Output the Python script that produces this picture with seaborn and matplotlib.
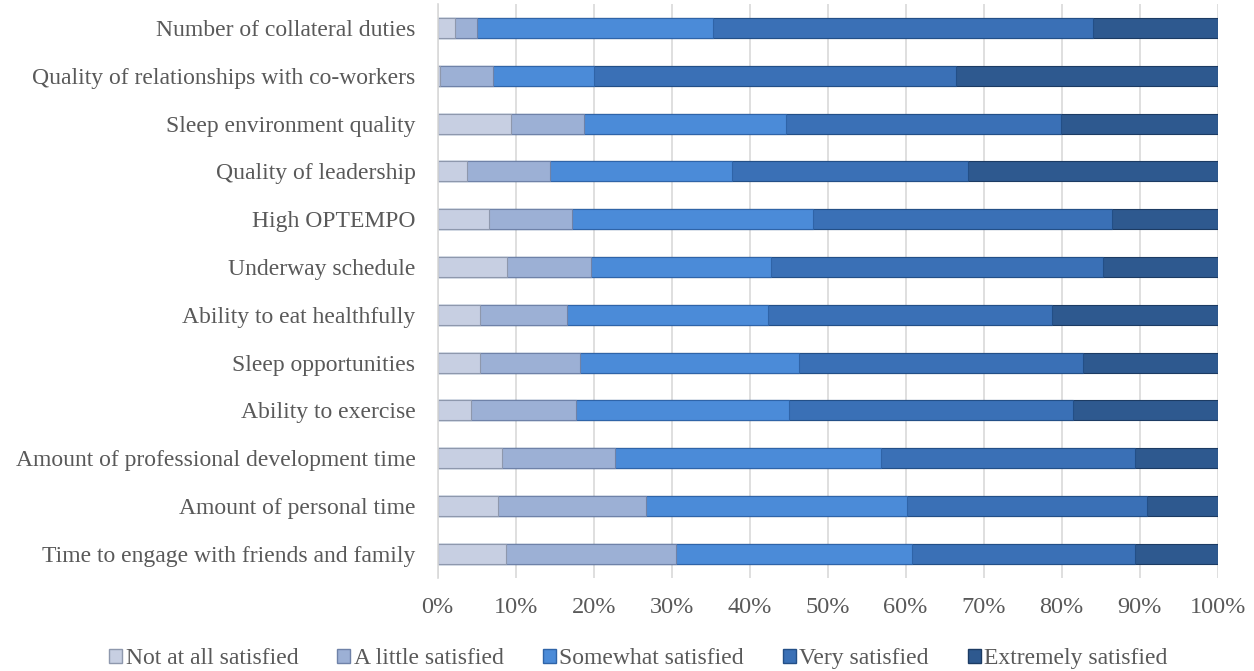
import numpy as np
import pandas as pd
import seaborn as sns
import matplotlib.pyplot as plt
from matplotlib.patches import Patch

# Survey items (top to bottom as shown)
items = [
    "Number of collateral duties",
    "Quality of relationships with co-workers",
    "Sleep environment quality",
    "Quality of leadership",
    "High OPTEMPO",
    "Underway schedule",
    "Ability to eat healthfully",
    "Sleep opportunities",
    "Ability to exercise",
    "Amount of professional development time",
    "Amount of personal time",
    "Time to engage with friends and family",
]

levels = ["Not at all satisfied", "A little satisfied", "Somewhat satisfied",
          "Very satisfied", "Extremely satisfied"]

# Percent of respondents per level
not_at_all = [2.2, 0.3, 9.4, 3.7, 6.6, 8.9, 5.4, 5.4, 4.3, 8.3, 7.7, 8.8]
a_little = [2.8, 6.8, 9.4, 10.7, 10.6, 10.7, 11.2, 12.9, 13.4, 14.5, 19.0, 21.7]
somewhat = [30.3, 12.9, 25.8, 23.4, 30.9, 23.2, 25.8, 28.0, 27.4, 34.1, 33.5, 30.3]
very = [48.7, 46.4, 35.3, 30.2, 38.4, 42.5, 36.4, 36.4, 36.3, 32.5, 30.8, 28.6]
extremely = [16.0, 33.6, 20.1, 32.0, 13.5, 14.7, 21.2, 17.3, 18.6, 10.6, 9.0, 10.6]

colors = ["#c7cfe2", "#9cb0d5", "#4b8bd8", "#3a70b6", "#2e598f"]
edges = ["#8e98ad", "#6f82a8", "#2f64a8", "#234f87", "#1c3b63"]

df = pd.DataFrame({
    "item": items,
    levels[0]: not_at_all,
    levels[1]: a_little,
    levels[2]: somewhat,
    levels[3]: very,
    levels[4]: extremely,
})
# normalise each row to 100%
vals = df[levels].div(df[levels].sum(axis=1), axis=0) * 100
cum = vals.cumsum(axis=1)

sns.set_style("white")
plt.rcParams["font.family"] = ["Liberation Serif", "DejaVu Serif"]
text_color = "#595959"

fig = plt.figure(figsize=(12.54, 6.71), dpi=100)
ax = fig.add_axes([0.349, 0.139, 0.622, 0.855])

# draw cumulative totals from the widest down so each layer sits on top
for i in range(len(levels) - 1, -1, -1):
    sns.barplot(x=cum[levels[i]].values, y=df["item"], orient="h",
                color=colors[i], width=0.42, ax=ax,
                edgecolor=edges[i], linewidth=0.8, saturation=1)

ax.set_xlim(0, 100)
ax.set_xticks(np.arange(0, 101, 10))
ax.set_xticklabels([f"{t}%" for t in range(0, 101, 10)])
ax.set_xlabel("")
ax.set_ylabel("")
ax.grid(axis="x", color="#d9d9d9", linewidth=1.2)
ax.set_axisbelow(True)
for s in ["top", "right", "bottom"]:
    ax.spines[s].set_visible(False)
ax.spines["left"].set_color("#d9d9d9")
ax.spines["left"].set_linewidth(1.2)
ax.tick_params(axis="both", length=0, labelcolor=text_color)
ax.tick_params(axis="y", pad=16, labelsize=17)
ax.tick_params(axis="x", pad=14, labelsize=17.5)

handles = [Patch(facecolor=c, edgecolor=e, label=l) for c, e, l in zip(colors, edges, levels)]
leg = fig.legend(handles=handles, loc="center", bbox_to_anchor=(0.509, 0.018),
                 ncol=5, frameon=False, fontsize=17, handlelength=0.55,
                 handleheight=0.55, handletextpad=0.15, columnspacing=1.65)
for t in leg.get_texts():
    t.set_color(text_color)

fig.savefig("out.png", dpi=100)
